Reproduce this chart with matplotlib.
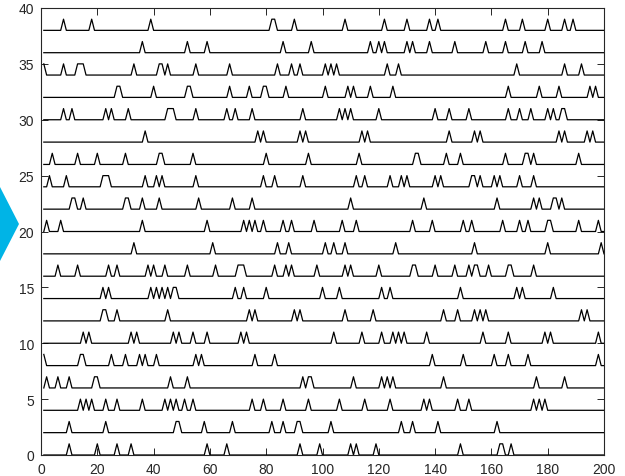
import numpy as np
import matplotlib
matplotlib.use('Agg')
import matplotlib.pyplot as plt
from matplotlib.patches import Polygon

# spike times (time step 1..200) for each trace, bottom trace first
row00 = [10, 20, 27, 32, 59, 66, 92, 99, 110, 112, 119, 149, 163, 164, 167]
row01 = [10, 23, 48, 49, 58, 68, 82, 86, 91, 92, 103, 128, 132, 141, 162]
row02 = [14, 16, 18, 23, 27, 36, 44, 46, 48, 51, 54, 75, 79, 86, 95, 106, 115, 124, 136, 138, 148, 152, 175, 177, 179]
row03 = [2, 6, 10, 19, 20, 46, 52, 93, 95, 96, 111, 121, 123, 125, 143, 176, 186]
row04 = [1, 14, 15, 25, 30, 35, 37, 41, 55, 57, 76, 83, 139, 150, 161, 166, 173, 198]
row05 = [15, 17, 32, 34, 47, 49, 54, 59, 71, 73, 104, 114, 121, 125, 127, 129, 137, 157, 166, 179, 181, 198]
row06 = [22, 23, 27, 45, 74, 76, 90, 92, 108, 118, 143, 148, 154, 156, 158, 192, 194]
row07 = [22, 24, 39, 41, 43, 45, 47, 48, 69, 72, 80, 100, 106, 121, 124, 149, 169, 171, 182]
row08 = [6, 13, 24, 27, 38, 40, 44, 52, 62, 70, 71, 72, 83, 87, 89, 98, 108, 110, 120, 132, 133, 140, 147, 152, 154, 155, 159, 166, 167, 175]
row09 = [33, 61, 84, 88, 101, 104, 108, 126, 154, 180, 199]
row10 = [2, 7, 36, 59, 72, 74, 76, 79, 86, 89, 97, 107, 112, 132, 139, 150, 153, 164, 170, 173, 180, 181, 191, 198]
row11 = [11, 12, 15, 30, 31, 36, 42, 56, 68, 75, 110, 136, 162, 175, 177, 182, 183, 185]
row12 = [3, 9, 22, 23, 24, 37, 41, 43, 55, 79, 83, 93, 112, 115, 124, 128, 130, 140, 142, 153, 154, 156, 161, 163, 170, 175]
row13 = [4, 13, 20, 30, 42, 43, 54, 80, 95, 113, 133, 134, 144, 149, 165, 172, 173, 175, 191]
row14 = [37, 77, 79, 92, 94, 114, 116, 145, 154, 156, 184, 186, 194, 196]
row15 = [8, 11, 23, 25, 31, 45, 46, 47, 55, 66, 69, 75, 93, 106, 108, 110, 120, 140, 145, 152, 166, 170, 174, 180, 182, 185, 186]
row16 = [27, 28, 40, 52, 53, 67, 74, 79, 80, 87, 101, 109, 111, 117, 125, 166, 177, 184, 195, 197]
row17 = [1, 8, 13, 14, 15, 33, 42, 43, 45, 55, 67, 84, 89, 92, 101, 103, 105, 123, 127, 169, 186, 192]
row18 = [36, 52, 59, 86, 96, 117, 120, 122, 130, 132, 138, 147, 158, 165, 172, 178]
row19 = [8, 18, 39, 82, 83, 90, 108, 122, 130, 138, 141, 165, 171, 180, 186, 189]

rows = [row00, row01, row02, row03, row04, row05, row06, row07, row08, row09,
        row10, row11, row12, row13, row14, row15, row16, row17, row18, row19]

t = np.arange(1, 201)

fig = plt.figure(figsize=(6.25, 4.77), dpi=100)
ax = fig.add_axes([41 / 625, 1 - 456 / 477, 563 / 625, 447 / 477])

for k, spikes in enumerate(rows):
    trace = 2 * k + np.isin(t, spikes).astype(float)
    ax.plot(t, trace, color='black', lw=0.9)

ax.set_xlim(0, 200)
ax.set_ylim(0, 40)
ax.set_xticks(np.arange(0, 201, 20))
ax.set_yticks(np.arange(0, 41, 5))
ax.tick_params(direction='in', top=True, right=True, length=5, width=0.7,
               colors='#262626', labelsize=10, pad=5)
for sp in ax.spines.values():
    sp.set_color('#262626')
    sp.set_linewidth(0.8)
for lab in ax.get_xticklabels() + ax.get_yticklabels():
    lab.set_family(['Liberation Sans', 'DejaVu Sans'])

# cyan arrow shape at the left edge
fig.patches.append(Polygon([[0, 1 - 188 / 477], [19 / 625, 1 - 225 / 477], [0, 1 - 262 / 477]],
                           closed=True, transform=fig.transFigure,
                           facecolor='#00b4e6', edgecolor='none'))

fig.savefig('out.png', dpi=100)
